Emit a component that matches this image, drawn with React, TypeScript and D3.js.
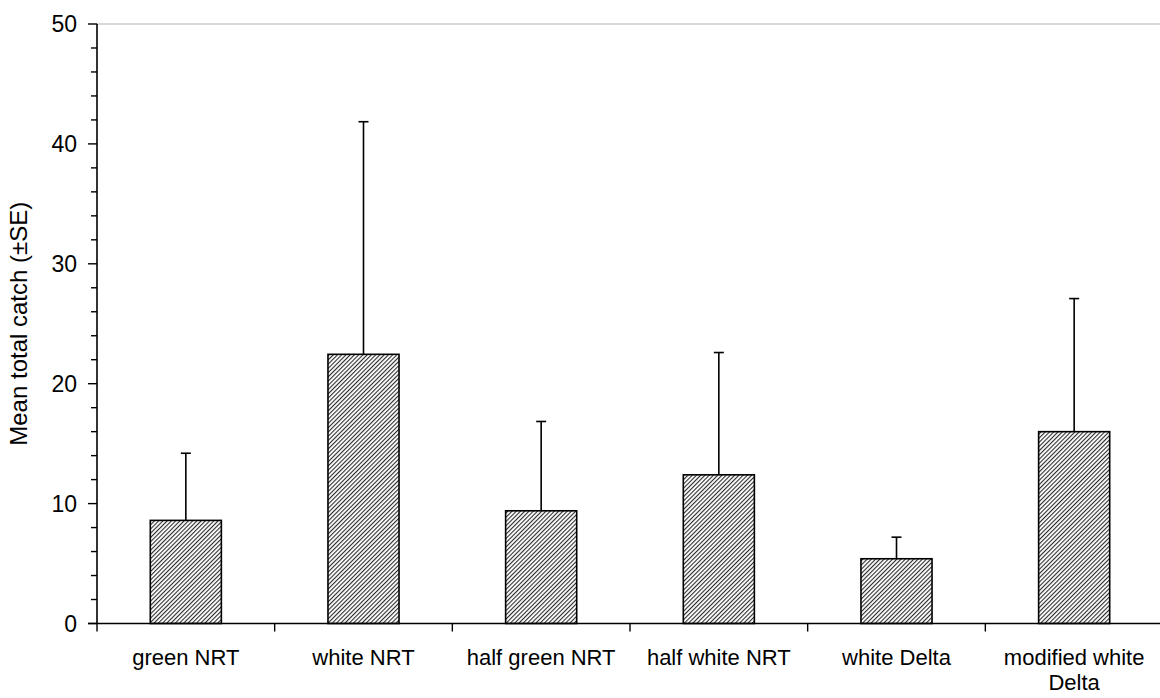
import React from "react";
import * as d3 from "d3";

// Mean total catch per trap type, with upper standard-error limits
const categories = [
  "green NRT",
  "white NRT",
  "half green NRT",
  "half white NRT",
  "white Delta",
  "modified white Delta",
];
const means = [8.6, 22.45, 9.4, 12.4, 5.4, 16.0];
const upperSE = [14.2, 41.85, 16.85, 22.6, 7.2, 27.1];
const yMajorTicks = [0, 10, 20, 30, 40, 50];

const W = 1160;
const H = 698;
const left = 97;
const right = 1163;
const top = 24;
const bottom = 623.5;

const FONT = "'Liberation Sans', Arial, Helvetica, sans-serif";

// split long category names onto two lines
function labelLines(s: string): string[] {
  if (s === "modified white Delta") return ["modified white", "Delta"];
  return [s];
}

export default function App() {
  const x = d3.scaleBand<string>().domain(categories).range([left, right]).paddingInner(0).paddingOuter(0);
  const y = d3.scaleLinear().domain([0, 50]).range([bottom, top]);
  const barW = x.bandwidth() * 0.4;
  const minorTicks = d3.range(0, 50.001, 2).filter((v) => v % 10 !== 0);
  const boundaries = [...categories.map((c) => x(c) as number), right];

  return (
    <div style={{ position: "fixed", left: 0, top: 0, width: W, height: H, background: "#fff" }}>
      <svg width={W} height={H} style={{ display: "block" }}>
        <defs>
          <pattern
            id="hatch"
            patternUnits="userSpaceOnUse"
            width={3}
            height={3}
            patternTransform="rotate(45)"
          >
            <rect width={3} height={3} fill="#fff" />
            <line x1={0} y1={0} x2={0} y2={3} stroke="#2a2a2a" strokeWidth={2.2} />
          </pattern>
        </defs>

        {/* top frame line */}
        <line x1={left} x2={W} y1={top} y2={top} stroke="#b0b0b0" strokeWidth={1} />

        {/* bars */}
        {categories.map((c, i) => {
          const cx = (x(c) as number) + x.bandwidth() / 2;
          return (
            <g key={c}>
              <line x1={cx} x2={cx} y1={y(means[i])} y2={y(upperSE[i])} stroke="#000" strokeWidth={1.6} />
              <line x1={cx - 5} x2={cx + 5} y1={y(upperSE[i])} y2={y(upperSE[i])} stroke="#000" strokeWidth={1.6} />
              <rect
                x={cx - barW / 2}
                y={y(means[i])}
                width={barW}
                height={y(0) - y(means[i])}
                fill="url(#hatch)"
                stroke="#000"
                strokeWidth={1.6}
              />
            </g>
          );
        })}

        {/* y axis */}
        <line x1={left} x2={left} y1={top} y2={bottom} stroke="#000" strokeWidth={1.6} />
        {minorTicks.map((v) => (
          <line key={"m" + v} x1={left - 6} x2={left} y1={y(v)} y2={y(v)} stroke="#000" strokeWidth={1.4} />
        ))}
        {yMajorTicks.map((v) => (
          <g key={"t" + v}>
            <line x1={left - 9} x2={left} y1={y(v)} y2={y(v)} stroke="#000" strokeWidth={1.4} />
            <text
              x={left - 20}
              y={y(v)}
              textAnchor="end"
              dominantBaseline="central"
              fontFamily={FONT}
              fontSize={23}
              fill="#000"
            >
              {v}
            </text>
          </g>
        ))}
        <text
          transform={`translate(27,${(top + bottom) / 2}) rotate(-90)`}
          textAnchor="middle"
          fontFamily={FONT}
          fontSize={24}
          fill="#000"
        >
          Mean total catch (±SE)
        </text>

        {/* x axis */}
        <line x1={left - 9} x2={right} y1={bottom} y2={bottom} stroke="#000" strokeWidth={1.6} />
        {boundaries.map((b, i) => (
          <line key={"b" + i} x1={b} x2={b} y1={bottom} y2={bottom + 8} stroke="#000" strokeWidth={1.4} />
        ))}
        {categories.map((c) => {
          const cx = (x(c) as number) + x.bandwidth() / 2;
          return (
            <text key={"l" + c} textAnchor="middle" fontFamily={FONT} fontSize={22} fill="#000">
              {labelLines(c).map((ln, k) => (
                <tspan key={k} x={cx} y={665 + k * 25}>
                  {ln}
                </tspan>
              ))}
            </text>
          );
        })}
      </svg>
    </div>
  );
}
